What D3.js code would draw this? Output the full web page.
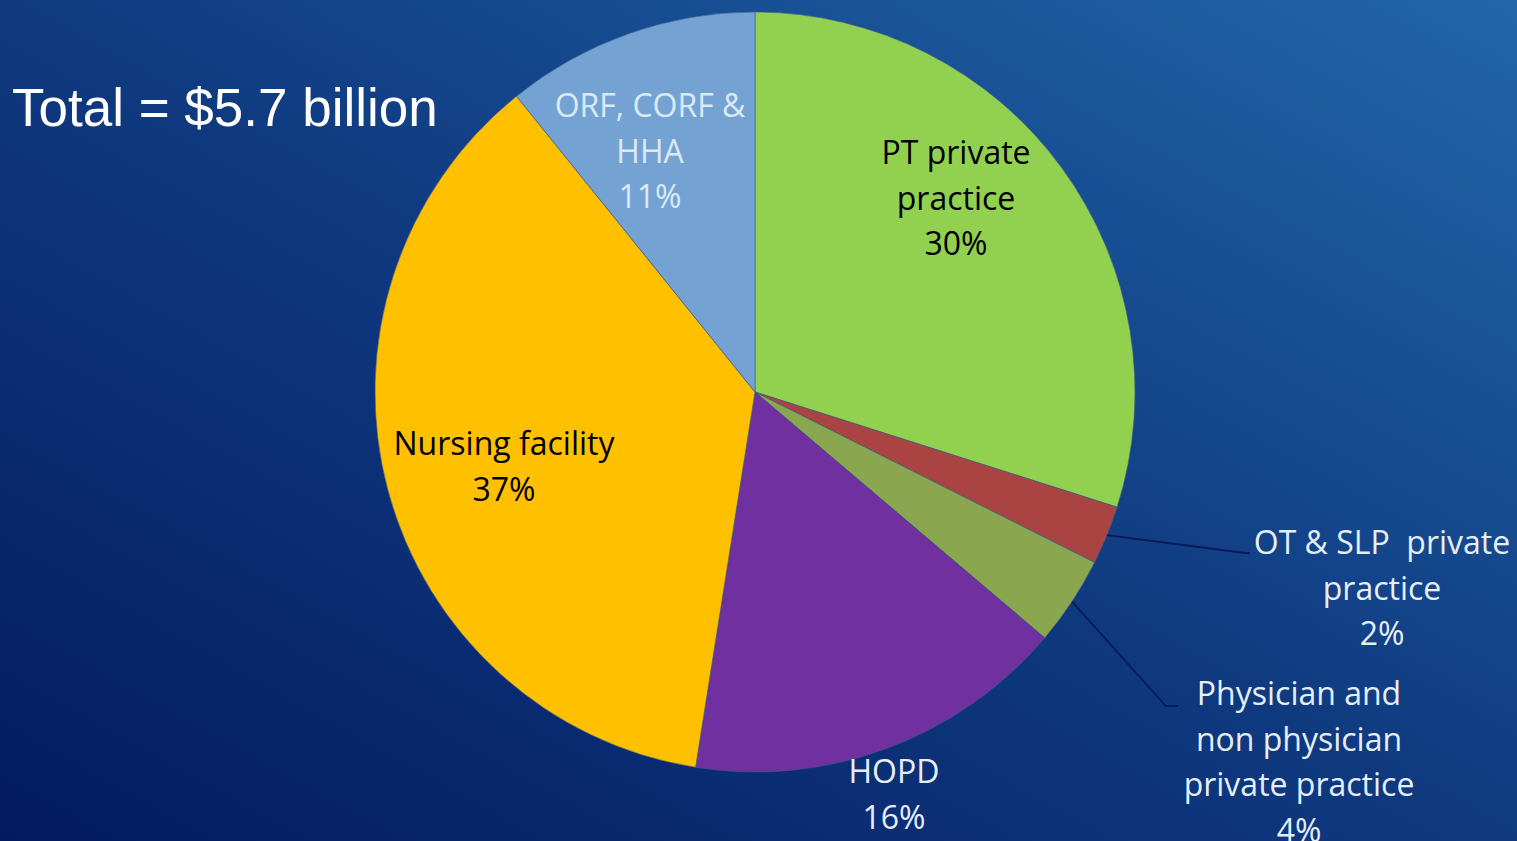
<!DOCTYPE html>
<meta charset="utf-8">
<style>
body { margin: 0; overflow: hidden; }
svg { display: block; }
</style>
<svg width="1517" height="841"></svg>
<script src="https://cdn.jsdelivr.net/npm/d3@7"></script>
<script>

// slices, clockwise from 12 o'clock
var categories = ["PT private practice", "OT & SLP private practice", "Physician and non physician private practice", "HOPD", "Nursing facility", "ORF, CORF & HHA"];
var shares = [29.9, 2.5, 3.8, 16.3, 36.7, 10.8];
var pctLabels = ["30%", "2%", "4%", "16%", "37%", "11%"];
var labelLines = [
  ["PT private", "practice"],
  ["OT & SLP  private", "practice"],
  ["Physician and", "non physician", "private practice"],
  ["HOPD"],
  ["Nursing facility"],
  ["ORF, CORF &", "HHA"]
];
var sliceColors = ["#92d050", "#a94442", "#8aa64f", "#7030a0", "#ffc000", "#74a3d3"];

// label placement (pixel layout, not data)
var labelPos = [
  {x: 956, y: 164, fill: "#000", leader: null},
  {x: 1382, y: 554, fill: "#e6eef8", leader: [1245, 553, 1250]},
  {x: 1299, y: 705, fill: "#e6eef8", leader: [1166, 706, 1178]},
  {x: 894, y: 783, fill: "#e6eef8", leader: null},
  {x: 504, y: 455, fill: "#000", leader: null},
  {x: 650, y: 117, fill: "#dbe9f5", leader: null}
];

var svg = d3.select("svg"),
    width = +svg.attr("width"),
    height = +svg.attr("height");

var defs = svg.append("defs");
var grad = defs.append("linearGradient")
    .attr("id", "bg")
    .attr("x1", "0%").attr("y1", "100%")
    .attr("x2", "100%").attr("y2", "0%");
grad.append("stop").attr("offset", "0%").attr("stop-color", "#041a60");
grad.append("stop").attr("offset", "50%").attr("stop-color", "#0f3a80");
grad.append("stop").attr("offset", "100%").attr("stop-color", "#2266aa");

svg.append("rect")
    .attr("width", width)
    .attr("height", height)
    .attr("fill", "url(#bg)");

var cx = 755, cy = 392, radius = 380;

var data = categories.map(function(c, i) { return {name: c, value: shares[i], i: i}; });

var pie = d3.pie()
    .sort(null)
    .value(function(d) { return d.value; });

var arc = d3.arc()
    .innerRadius(0)
    .outerRadius(radius);

var arcs = pie(data);

var g = svg.append("g")
    .attr("transform", "translate(" + cx + "," + cy + ")");

g.selectAll("path.slice")
  .data(arcs)
  .enter().append("path")
    .attr("class", "slice")
    .attr("d", arc)
    .attr("fill", function(d) { return sliceColors[d.data.i]; })
    .attr("stroke", "#3b5a8a")
    .attr("stroke-width", 0.6);

// leader lines for the thin slices
arcs.forEach(function(d) {
  var p = labelPos[d.data.i];
  if (!p.leader) return;
  var mid = (d.startAngle + d.endAngle) / 2;
  var sx = cx + radius * Math.sin(mid),
      sy = cy - radius * Math.cos(mid);
  svg.append("polyline")
      .attr("points", [sx, sy, p.leader[0], p.leader[1], p.leader[2], p.leader[1]].join(","))
      .attr("fill", "none")
      .attr("stroke", "#08195a")
      .attr("stroke-width", 1.8);
});

// slice labels
data.forEach(function(d) {
  var p = labelPos[d.i];
  var lines = labelLines[d.i].concat([pctLabels[d.i]]);
  var t = svg.append("text")
      .attr("x", p.x)
      .attr("y", p.y)
      .attr("text-anchor", "middle")
      .attr("font-family", "'Open Sans', 'Noto Sans', sans-serif")
      .attr("font-size", 32)
      .attr("fill", p.fill);
  lines.forEach(function(l, k) {
    t.append("tspan")
        .attr("x", p.x)
        .attr("dy", k === 0 ? 0 : 45.5)
        .style("white-space", "pre")
        .text(l);
  });
});

svg.append("text")
    .attr("x", 12)
    .attr("y", 126)
    .attr("font-family", "'Liberation Sans', Arial, sans-serif")
    .attr("font-size", 53)
    .attr("fill", "#fff")
    .text("Total = $5.7 billion");

</script>
